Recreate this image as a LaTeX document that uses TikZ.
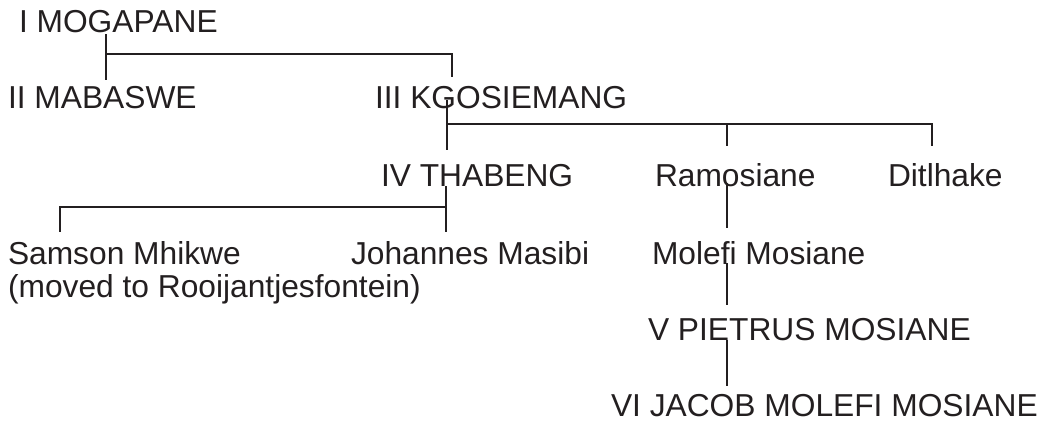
\documentclass[tikz,border=0pt]{standalone}
\usepackage{fontspec}
\setmainfont{Liberation Sans}
\definecolor{ink}{HTML}{231F20}
\begin{document}
\begin{tikzpicture}[x=0.75pt,y=-0.75pt,
  person/.style={anchor=base west,inner sep=0pt,outer sep=0pt,font=\fontsize{23.8pt}{28pt}\selectfont,text=ink},
  link/.style={draw=ink,line width=1.5pt}]
\useasboundingbox (0,0) rectangle (1045,421);
% people
\node[person] (mog) at (19,32) {I MOGAPANE};
\node[person] (mab) at (8,108) {II MABASWE};
\node[person] (kgo) at (375,108) {III KGOSIEMANG};
\node[person] (tha) at (381,186) {IV THABENG};
\node[person] (ram) at (655,186) {Ramosiane};
\node[person] (dit) at (888,186) {Ditlhake};
\node[person] (sam) at (8,264) {Samson Mhikwe};
\node[person] (samb) at (8,297) {(moved to Rooijantjesfontein)};
\node[person] (joh) at (351,264) {Johannes Masibi};
\node[person] (mol) at (652,264) {Molefi Mosiane};
\node[person] (pie) at (648,340) {V PIETRUS MOSIANE};
\node[person] (jac) at (611,416) {VI JACOB MOLEFI MOSIANE};
% connector points
\coordinate (mogD) at (106,34);
\coordinate (mogJ) at (106,54);
\coordinate (mabU) at (106,80);
\coordinate (kgoJ) at (452,54);
\coordinate (kgoU) at (452,77);
\coordinate (kgoD) at (447,100);
\coordinate (kgoB) at (447,124);
\coordinate (thaU) at (447,150);
\coordinate (ramJ) at (727,124);
\coordinate (ramU) at (727,146);
\coordinate (ditJ) at (932,124);
\coordinate (ditU) at (932,146);
\coordinate (thaD) at (446,186);
\coordinate (thaB) at (446,207);
\coordinate (johU) at (446,232);
\coordinate (samJ) at (60,207);
\coordinate (samU) at (60,232);
\coordinate (ramD) at (727,183);
\coordinate (molU) at (727,228);
\coordinate (molD) at (727,263);
\coordinate (pieU) at (727,305);
\coordinate (pieD) at (727,340);
\coordinate (jacU) at (727,386);
% connectors
\draw[link] (mogD) -- (mabU);
\draw[link] (mogJ) -- (kgoJ) -- (kgoU);
\draw[link] (kgoD) -- (thaU);
\draw[link] (kgoB) -- (ditJ) -- (ditU);
\draw[link] (ramJ) -- (ramU);
\draw[link] (thaD) -- (johU);
\draw[link] (thaB) -- (samJ) -- (samU);
\draw[link] (ramD) -- (molU);
\draw[link] (molD) -- (pieU);
\draw[link] (pieD) -- (jacU);
\end{tikzpicture}
\end{document}
